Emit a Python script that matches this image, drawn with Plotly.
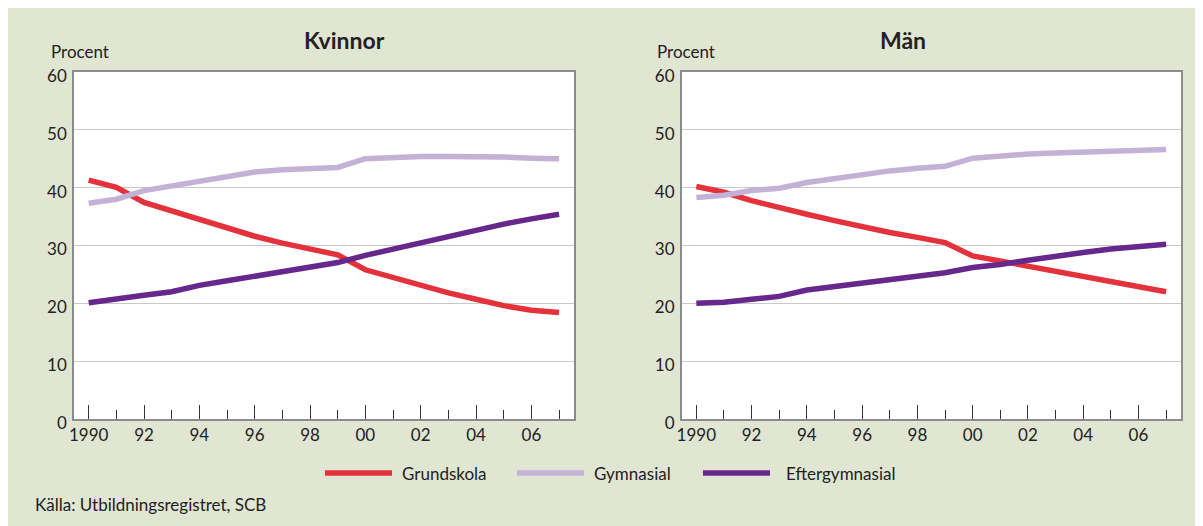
import plotly.graph_objects as go

# ---------------- data ----------------
years = list(range(1990, 2008))
x_tick_vals = [1990, 1992, 1994, 1996, 1998, 2000, 2002, 2004, 2006]
x_tick_text = ["1990", "92", "94", "96", "98", "00", "02", "04", "06"]
x_minor_vals = [1991, 1993, 1995, 1997, 1999, 2001, 2003, 2005, 2007]
y_tick_vals = [0, 10, 20, 30, 40, 50, 60]

series_names = ["Grundskola", "Gymnasial", "Eftergymnasial"]
series_colors = ["#e3323b", "#c4b2d6", "#66288c"]

kvinnor_grundskola = [41.3, 40.05, 37.45, 36.0, 34.6, 33.0, 31.6, 30.4, 29.5, 28.4,
                      25.8, 24.4, 23.1, 21.8, 20.7, 19.6, 18.8, 18.4]
kvinnor_gymnasial = [37.3, 38.0, 39.5, 40.35, 41.2, 42.0, 42.7, 43.1, 43.2, 43.5,
                     45.0, 45.3, 45.4, 45.4, 45.4, 45.3, 45.1, 45.0]
kvinnor_efter = [20.1, 20.85, 21.4, 22.0, 23.1, 23.9, 24.7, 25.4, 26.2, 27.05,
                 28.3, 29.4, 30.5, 31.6, 32.7, 33.7, 34.6, 35.4]

man_grundskola = [40.2, 39.2, 37.75, 36.5, 35.4, 34.3, 33.2, 32.25, 31.4, 30.5,
                  28.2, 27.3, 26.5, 25.6, 24.6, 23.7, 22.7, 22.0]
man_gymnasial = [38.3, 38.7, 39.5, 39.9, 40.9, 41.6, 42.3, 42.9, 43.35, 43.7,
                 45.1, 45.5, 45.8, 46.0, 46.2, 46.4, 46.5, 46.6]
man_efter = [20.0, 20.2, 20.7, 21.2, 22.3, 22.9, 23.6, 24.2, 24.7, 25.3,
             26.2, 26.7, 27.45, 28.2, 28.8, 29.4, 29.8, 30.2]

panel_titles = ["Kvinnor", "Män"]
y_title = "Procent"
source_text = "Källa: Utbildningsregistret, SCB"

# ---------------- geometry (page coords; figure sits at an 8px body offset) ----------------
OFF = 8
W, H = 1203 - OFF, 526 - OFF
ML, MR, MT, MB = 74 - OFF, 22, 72 - OFF, 107
PW = W - ML - MR
PH = H - MT - MB


def px(x):
    return (x - OFF - ML) / PW


def py(y):
    return (H - MB - (y - OFF)) / PH


FONT = "Lato, 'Open Sans', sans-serif"
TXT = "#222222"

fig = go.Figure()

panels = [
    ("x", "y", [kvinnor_grundskola, kvinnor_gymnasial, kvinnor_efter]),
    ("x2", "y2", [man_grundskola, man_gymnasial, man_efter]),
]
for xa, ya, data in panels:
    for name, color, vals in zip(series_names, series_colors, data):
        fig.add_trace(go.Scatter(
            x=years, y=vals, mode="lines", name=name, showlegend=False,
            line=dict(color=color, width=5.5), xaxis=xa, yaxis=ya,
            hoverinfo="skip"))

xcommon = dict(
    range=[1989.47, 2007.54], showline=True, mirror=True, linecolor="#8c8c8c",
    linewidth=1.5, tickmode="array", tickvals=x_tick_vals, ticktext=x_tick_text,
    ticks="inside", ticklen=14, tickcolor="#333333", tickwidth=1.3,
    minor=dict(tickvals=x_minor_vals, ticks="inside", ticklen=9,
               tickcolor="#333333", tickwidth=1.3, showgrid=False),
    showgrid=False, zeroline=False,
    tickfont=dict(family=FONT, size=17, color=TXT),
)
ycommon = dict(
    range=[0, 60], showline=True, mirror=True, linecolor="#8c8c8c",
    linewidth=1.5, tickmode="array", tickvals=y_tick_vals, ticks="",
    showgrid=True, gridcolor="#c8c8c8", gridwidth=1, zeroline=False,
    tickfont=dict(family=FONT, size=17, color=TXT), ticklabelstandoff=2,
    ticklabelshift=4,
)

left_dom = [0, (574 - 74) / PW]
right_dom = [(681.7 - 74) / PW, 1]

fig.update_layout(
    width=W, height=H,
    margin=dict(l=ML, r=MR, t=MT, b=MB),
    paper_bgcolor="#e1e6d2", plot_bgcolor="#ffffff",
    font=dict(family=FONT, color=TXT),
    xaxis=dict(domain=left_dom, anchor="y", **xcommon),
    xaxis2=dict(domain=right_dom, anchor="y2", **xcommon),
    yaxis=dict(domain=[0, 1], anchor="x", **ycommon),
    yaxis2=dict(domain=[0, 1], anchor="x2", **ycommon),
    showlegend=False,
)

shapes = []
annotations = []

# titles
annotations.append(dict(text="<b>%s</b>" % panel_titles[0], x=px(344), y=py(40),
                        xref="paper", yref="paper", xanchor="center", yanchor="middle",
                        showarrow=False, font=dict(family=FONT, size=23, color=TXT)))
annotations.append(dict(text="<b>%s</b>" % panel_titles[1], x=px(903), y=py(40),
                        xref="paper", yref="paper", xanchor="center", yanchor="middle",
                        showarrow=False, font=dict(family=FONT, size=23, color=TXT)))
for xl in (49, 655):
    annotations.append(dict(text=y_title, x=px(xl), y=py(51), xref="paper", yref="paper",
                            xanchor="left", yanchor="middle", showarrow=False,
                            font=dict(family=FONT, size=17, color=TXT)))

# legend (drawn manually)
legend_line_x = [325, 517, 703]
legend_text_x = [400, 592, 784]
for name, color, lx, tx in zip(series_names, series_colors, legend_line_x, legend_text_x):
    shapes.append(dict(type="line", xref="paper", yref="paper",
                       x0=px(lx), x1=px(lx + 67), y0=py(473), y1=py(473),
                       line=dict(color=color, width=5.5)))
    annotations.append(dict(text=name, x=px(tx), y=py(474), xref="paper", yref="paper",
                            xanchor="left", yanchor="middle", showarrow=False,
                            font=dict(family=FONT, size=17, color=TXT)))

annotations.append(dict(text=source_text, x=px(33), y=py(505), xref="paper", yref="paper",
                        xanchor="left", yanchor="middle", showarrow=False,
                        font=dict(family=FONT, size=17, color=TXT)))

fig.update_layout(shapes=shapes, annotations=annotations)
fig.write_html("out.html")
